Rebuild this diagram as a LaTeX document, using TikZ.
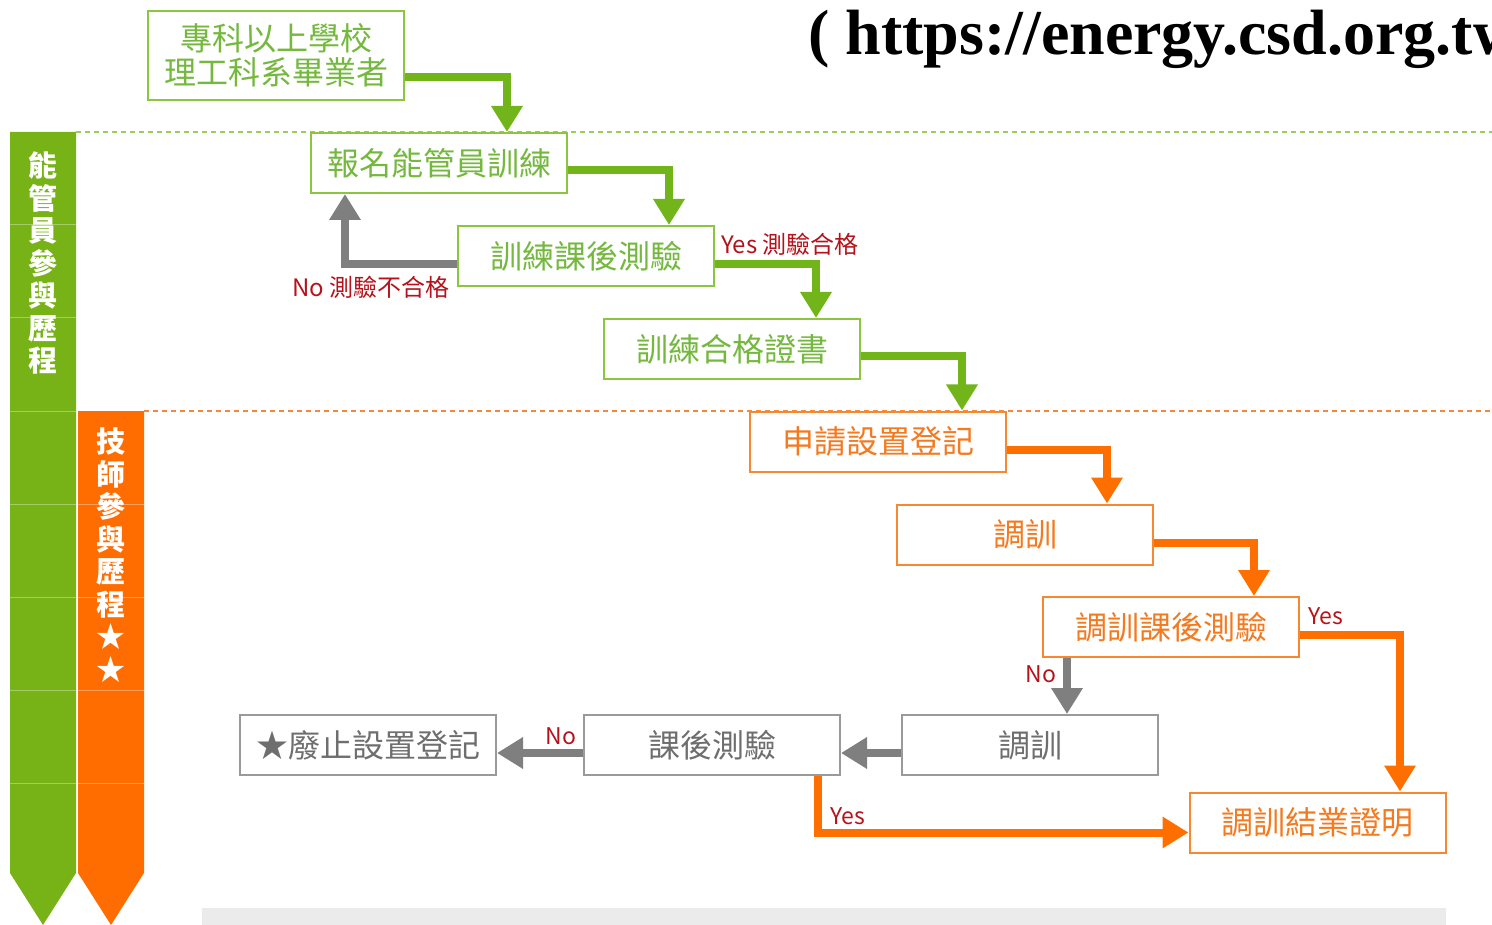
\documentclass[tikz,border=0pt]{standalone}
\usepackage{fontspec}
\usetikzlibrary{arrows.meta}
\newfontfamily\cjk{Noto Sans CJK TC}
\newfontfamily\tnr{Liberation Serif}
\definecolor{lanegreen}{HTML}{77B216}
\definecolor{laneorange}{HTML}{FF6D00}
\definecolor{bgreen}{HTML}{8CC63F}
\definecolor{tgreen}{HTML}{74B83E}
\definecolor{borange}{HTML}{F7882F}
\definecolor{torange}{HTML}{F47A20}
\definecolor{agreen}{HTML}{72B51A}
\definecolor{aorange}{HTML}{FF6F00}
\definecolor{agray}{HTML}{7F7F7F}
\definecolor{bgray}{HTML}{9A9A9A}
\definecolor{tgray}{HTML}{6E6E6E}
\definecolor{lred}{HTML}{B5121B}
\definecolor{dgreen}{HTML}{9BCF53}
\definecolor{dorange}{HTML}{F7883A}
\tikzset{
  box/.style={draw, line width=2pt, minimum width=256pt, minimum height=60pt, inner sep=0pt, font=\cjk\fontsize{32}{34}\selectfont, fill=white},
  gbox/.style={box, draw=bgreen, text=tgreen},
  obox/.style={box, draw=borange, text=torange},
  graybox/.style={box, draw=bgray, text=tgray},
  conn/.style={line width=8pt, -{Triangle[width=30pt,length=26pt]}},
  garrow/.style={conn, draw=agreen},
  oarrow/.style={conn, draw=aorange},
  grarrow/.style={conn, draw=agray},
  lbl/.style={text=lred, inner sep=0pt, font=\cjk\fontsize{23}{26}\selectfont},
  lanetext/.style={text=white, align=center, inner sep=0pt, font=\cjk\bfseries\fontsize{29}{32.5}\selectfont},
  sep/.style={draw=white, draw opacity=0.35, line width=1pt}
}
\begin{document}
\begin{tikzpicture}[x=1pt,y=-1pt]
\useasboundingbox (0,0) rectangle (1492,925);
\clip (0,0) rectangle (1492,925);
% bottom gray band
\fill[black!8] (202,908) rectangle (1446,925);
% lanes
\fill[lanegreen] (10,132) -- (76,132) -- (76,873) -- (43,925) -- (10,873) -- cycle;
\fill[laneorange] (78,411) -- (144,411) -- (144,873) -- (111,925) -- (78,873) -- cycle;
\foreach \yy in {225,318,411} \draw[sep] (10,\yy) -- (76,\yy);
\foreach \yy in {504,597,690,783} \draw[sep] (10,\yy) -- (144,\yy);
\node[lanetext] (lane1) at (43,263) {能\\管\\員\\參\\與\\歷\\程};
\node[lanetext] (lane2) at (111,555) {技\\師\\參\\與\\歷\\程\\★\\★};
% dashed separators
\draw[dgreen, line width=1.6pt, dash pattern=on 5pt off 4pt] (76,132) -- (1492,132);
\draw[dorange, line width=1.6pt, dash pattern=on 5pt off 4pt] (144,411) -- (1492,411);
% title
\node[anchor=base west, inner sep=0pt, font=\tnr\bfseries\fontsize{64}{64}\selectfont] (title) at (808,55) {( https://energy.csd.org.tw};
% boxes
\node[gbox, minimum height=89pt, align=center] (a) at (276,55.5) {專科以上學校\\理工科系畢業者};
\node[gbox] (b) at (439,163) {報名能管員訓練};
\node[gbox] (c) at (586,256) {訓練課後測驗};
\node[gbox] (d) at (732,349) {訓練合格證書};
\node[obox] (e) at (878,441.5) {申請設置登記};
\node[obox] (f) at (1025,534.5) {調訓};
\node[obox] (g) at (1171,627) {調訓課後測驗};
\node[graybox] (h) at (1030,745) {調訓};
\node[graybox] (i) at (712,745) {課後測驗};
\node[graybox] (j) at (368,745) {★廢止設置登記};
\node[obox] (k) at (1317.5,822.5) {調訓結業證明};
% connectors
\draw[garrow] ([yshift=-22pt]a.east) -| (507,0 |- b.north);
\draw[garrow] ([yshift=-7pt]b.east) -| (669,0 |- c.north);
\draw[grarrow] ([yshift=-8pt]c.west) -| (345,0 |- b.south);
\draw[garrow] ([yshift=-8pt]c.east) -| (816,0 |- d.north);
\draw[garrow] ([yshift=-7pt]d.east) -| (962,0 |- e.north);
\draw[oarrow] ([yshift=-8pt]e.east) -| (1107,0 |- f.north);
\draw[oarrow] ([yshift=-8pt]f.east) -| (1254,0 |- g.north);
\draw[grarrow] (1067,0 |- g.south) -- (1067,0 |- h.north);
\draw[oarrow] ([yshift=-8pt]g.east) -| (1400,0 |- k.north);
\draw[grarrow] ([yshift=-8pt]h.west) -- ([yshift=-8pt]i.east);
\draw[grarrow] ([yshift=-8pt]i.west) -- ([yshift=-8pt]j.east);
\draw[oarrow] (818,0 |- i.south) |- ([yshift=-10pt]k.west);
% labels
\node[lbl, anchor=east, font=\cjk\fontsize{24}{26}\selectfont] (l1) at (450,287) {No 測驗不合格};
\node[lbl, anchor=west, font=\cjk\fontsize{24}{26}\selectfont] (l2) at (721,244) {Yes 測驗合格};
\node[lbl] (l3) at (1326,616) {Yes};
\node[lbl] (l4) at (1041,674) {No};
\node[lbl] (l5) at (561,736) {No};
\node[lbl] (l6) at (848,816) {Yes};
\end{tikzpicture}
\end{document}
